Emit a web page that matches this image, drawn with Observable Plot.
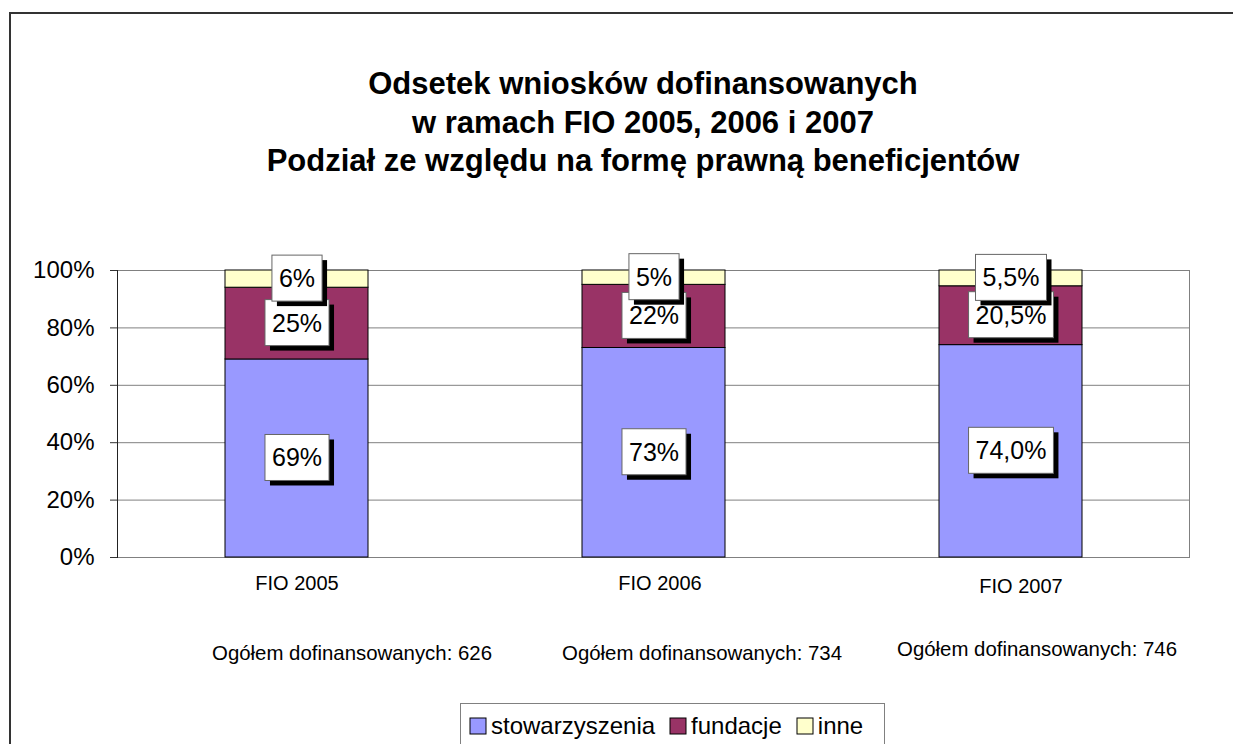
<!DOCTYPE html>
<html><head><meta charset="utf-8">
<script src="https://cdn.jsdelivr.net/npm/d3@7"></script>
<script src="https://cdn.jsdelivr.net/npm/@observablehq/plot@0.6"></script>
<style>
html,body{margin:0;padding:0;background:#fff;overflow:hidden;width:1233px;height:744px;}
body{position:relative;font-family:"Liberation Sans",Arial,sans-serif;}
#border{position:absolute;left:9px;top:12px;width:1300px;height:800px;border:2px solid #333;box-sizing:border-box;}
#chart{position:absolute;left:0;top:0;}
#title{position:absolute;left:0;top:65px;width:1286px;text-align:center;font-weight:bold;font-size:31px;line-height:38.5px;color:#000;}
#legend{position:absolute;left:460px;top:703px;width:425px;height:60px;border:1px solid #808080;box-sizing:border-box;background:#fff;padding:9px 0 0 9px;}
#legend .lg-swatches{margin:0;min-height:0;}
#legend .lg-swatch{margin-right:15px;line-height:26px;}
#legend .lg-swatch > svg{margin-right:5px;overflow:visible;}
#legend .lg-swatch > svg rect{stroke:#000;stroke-width:1px;}
</style></head><body>
<div id="border"></div>
<div id="chart"></div>
<div id="title">Odsetek wniosków dofinansowanych<br>w ramach FIO 2005, 2006 i 2007<br>Podział ze względu na formę prawną beneficjentów</div>
<div id="legend"></div>
<script>
// ---- data ----
const categories = ["FIO 2005", "FIO 2006", "FIO 2007"];
const totals = [626, 734, 746];
const series = ["stowarzyszenia", "fundacje", "inne"];
const colors = ["#9999FF", "#993366", "#FFFFCC"];
const stowarzyszenia = [69, 73, 74.0];
const fundacje = [25, 22, 20.5];
const inne = [6, 5, 5.5];
const stowLabels = ["69%", "73%", "74,0%"];
const fundLabels = ["25%", "22%", "20,5%"];
const inneLabels = ["6%", "5%", "5,5%"];
const yTicks = [0, 20, 40, 60, 80, 100];

const seriesValues = [stowarzyszenia, fundacje, inne];
const seriesLabels = [stowLabels, fundLabels, inneLabels];
const rows = [];
series.forEach((s, si) => categories.forEach((c, ci) => rows.push({cat: c, series: s, value: seriesValues[si][ci], label: seriesLabels[si][ci]})));

const FONT = '"Liberation Sans", Arial, sans-serif';

const catMark = (i, dx, dy) => Plot.text([categories[i]], {x: d => d, text: d => d, frameAnchor: "bottom", lineAnchor: "top", dx, dy, fontSize: 20, fill: "#000"});
const totMark = (i, dx, dy) => Plot.text([categories[i]], {x: d => d, text: () => `Ogółem dofinansowanych: ${totals[i]}`, frameAnchor: "bottom", lineAnchor: "top", dx, dy, fontSize: 20.4, fill: "#000"});

const plot = Plot.plot({
  width: 1233, height: 744,
  marginLeft: 117, marginRight: 44, marginTop: 270, marginBottom: 187,
  style: {fontFamily: FONT, fontSize: "23px", background: "transparent", color: "#000", overflow: "visible"},
  x: {domain: categories, paddingInner: 0.6, paddingOuter: 0.3, axis: null},
  y: {domain: [0, 100], axis: null},
  color: {domain: series, range: colors},
  marks: [
    Plot.ruleY(yTicks, {stroke: "#808080", strokeWidth: 1}),
    Plot.frame({stroke: "#808080"}),
    Plot.frame({anchor: "left", stroke: "#222"}),
    Plot.barY(rows, Plot.stackY({x: "cat", y: "value", z: "series", fill: "series", stroke: "#000", strokeWidth: 1})),
    Plot.axisY({ticks: yTicks, tickSize: 7, tickPadding: 16, tickFormat: d => d + "%", fontSize: 24, stroke: "#333", fill: "#000", label: null}),
    Plot.text(rows, Plot.stackY({x: "cat", y: "value", z: "series", text: "label", fontSize: 25, fill: "#000", className: "seglabel"})),
    catMark(0, 0, 18), catMark(1, 6, 18), catMark(2, 10, 21),
    totMark(0, 55, 88), totMark(1, 48, 88), totMark(2, 26, 84)
  ]
});
document.getElementById("chart").append(plot);

// white label boxes with drop shadow, sized from each rendered label
const SVGNS = "http://www.w3.org/2000/svg";
plot.querySelectorAll(".seglabel text").forEach(t => {
  const bb = t.getBBox();
  const w = bb.width + 14, h = 46;
  const cx = bb.x + bb.width / 2, cy = bb.y + bb.height / 2;
  const tr = t.getAttribute("transform");
  const mk = (dx, dy, fill, stroke) => {
    const r = document.createElementNS(SVGNS, "rect");
    r.setAttribute("x", cx - w / 2 + dx); r.setAttribute("y", cy - h / 2 + dy);
    r.setAttribute("width", w); r.setAttribute("height", h);
    r.setAttribute("fill", fill);
    if (stroke) { r.setAttribute("stroke", stroke); r.setAttribute("stroke-width", 1); }
    if (tr) r.setAttribute("transform", tr);
    t.parentNode.insertBefore(r, t);
  };
  mk(5, 5, "#000", null);
  mk(0, 0, "#fff", "#666");
});

const leg = Plot.legend({color: {domain: series, range: colors}, legend: "swatches", swatchSize: 16, className: "lg", style: {fontFamily: FONT, fontSize: "24px", color: "#000"}});
document.getElementById("legend").append(leg);
</script>
</body></html>
